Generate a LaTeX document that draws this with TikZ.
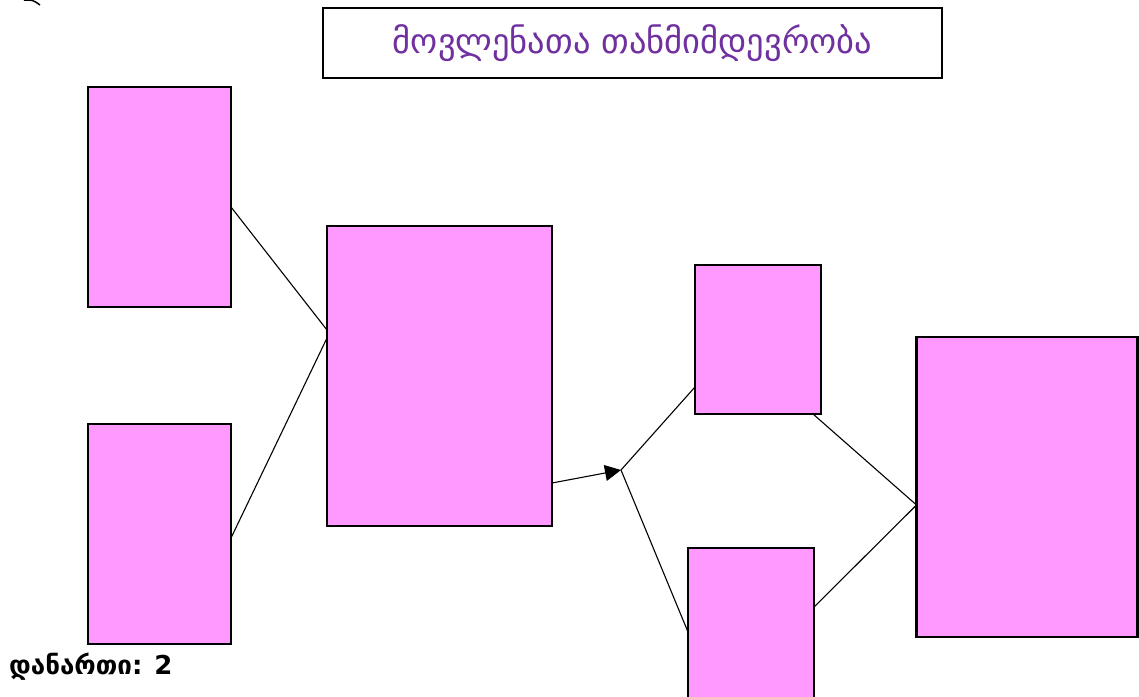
\documentclass[tikz,border=0pt]{standalone}
\usepackage{fontspec}
\newfontfamily\geo{DejaVu Sans}
\usetikzlibrary{arrows.meta}
\definecolor{boxpink}{HTML}{FF99FF}
\definecolor{titlepurple}{HTML}{7030A0}
\tikzset{
  box/.style={draw, line width=2.4pt, fill=boxpink, inner sep=0pt, outer sep=0pt},
  link/.style={line width=1.1pt},
  titlebox/.style={draw, line width=2.4pt, fill=white, inner sep=0pt, outer sep=0pt, text=titlepurple, font=\geo\fontsize{34.5}{40}\selectfont}
}
\begin{document}
\begin{tikzpicture}[x=1pt,y=-1pt]
\clip (0,0) rectangle (1139,696);
\fill[white] (0,0) rectangle (1139,696);
\node[titlebox, minimum width=619pt, minimum height=70pt] (T) at (632.5,43) {მოვლენათა თანმიმდევრობა};
\node[box, minimum width=143pt, minimum height=220pt] (A) at (159.5,197) {};
\node[box, minimum width=143pt, minimum height=220pt] (B) at (159.5,534) {};
\node[box, minimum width=225pt, minimum height=300pt] (C) at (439.5,376) {};
\node[box, minimum width=126pt, minimum height=149pt] (D) at (758,339.5) {};
\node[box, minimum width=126pt, minimum height=162pt] (E) at (751,629) {};
\node[box, minimum width=221pt, minimum height=300pt] (F) at (1027,487) {};
\coordinate (J) at (621,470);
\draw[link] ([yshift=-10pt]A.east) -- ([yshift=46pt]C.west);
\draw[link] ([yshift=-4pt]B.east) -- ([yshift=38pt]C.west);
\draw[link, -{Triangle[length=16pt,width=16pt]}] ([yshift=-107pt]C.east) -- (J);
\draw[link] ([yshift=-47.5pt]D.west) -- (J);
\draw[link] ([yshift=-3pt]E.west) -- (J);
\draw[link] ([xshift=-8pt]D.south east) -- ([yshift=-18pt]F.west);
\draw[link] ([yshift=22pt]E.east) -- ([yshift=-18pt]F.west);
\node[anchor=west, inner sep=0pt, font=\geo\bfseries\fontsize{26}{30}\selectfont] (L) at (9,667) {დანართი: 2};
\draw[line width=1.5pt] (24,0) .. controls (33,0) .. (40,5);
\end{tikzpicture}
\end{document}
